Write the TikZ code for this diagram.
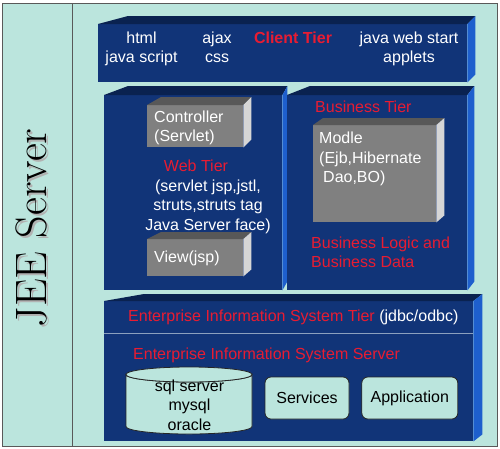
\documentclass[tikz,border=0pt]{standalone}
\usepackage{xcolor}
\usepackage{fontspec}
\usepackage{tikz}
\usetikzlibrary{positioning}
\newfontfamily\arialfont{Liberation Sans}

\definecolor{bgcyan}{RGB}{187,229,221}
\definecolor{tierfront}{RGB}{17,52,120}
\definecolor{tiertop}{RGB}{10,34,80}
\definecolor{tierside}{RGB}{30,95,205}
\definecolor{boxfront}{RGB}{128,128,128}
\definecolor{boxtop}{RGB}{88,88,88}
\definecolor{boxside}{RGB}{214,214,214}
\definecolor{tiername}{RGB}{232,28,50}
\definecolor{eisline}{RGB}{140,160,190}

% top and right faces of a block: node, top colour, side colour, left slant, depth x, depth y
\newcommand{\boxfaces}[6]{%
    \fill[#2] (#1.north west) -- ++(#4,-#6) -- ([shift={(#5pt,#6pt)}]#1.north east) -- (#1.north east) -- cycle;
    \fill[#3] (#1.north east) -- ++(#5,-#6) -- ([shift={(#5pt,#6pt)}]#1.south east) -- (#1.south east) -- cycle;
}

\begin{document}
\begin{tikzpicture}[
        x=1pt, y=-1pt,
        every node/.style={inner sep=0pt, font=\arialfont\fontsize{16}{19.5}\selectfont},
        tier/.style={fill=tierfront, anchor=north west},
        block/.style={fill=boxfront, anchor=north west},
        wtext/.style={text=white, align=center},
        rtext/.style={text=tiername},
        dbbox/.style={draw=black!85, line width=0.8pt, fill=bgcyan, rounded corners=6pt,
            minimum width=84pt, minimum height=42pt, text=black}
    ]
        \useasboundingbox (0,0) rectangle (500,448);
        \draw[black!65, fill=bgcyan] (2.5,3) rectangle (497,446);
        \draw[black!65] (72,3) -- (72,446);

        \node[rotate=90, anchor=base, text=black!30, font=\fontsize{44}{44}\selectfont] (jeeshadow) at (48,230) {JEE Server};
        \node[rotate=90, anchor=base, font=\fontsize{44}{44}\selectfont] (jee) at (46,228) {JEE Server};

        % client tier
        \node[tier, minimum width=369pt, minimum height=58pt] (client) at (98,24) {};
        \boxfaces{client}{tiertop}{tierside}{30}{8}{8}
        \node[wtext, anchor=north] (clientleft) at (141.5,31.5) {html\\java script};
        \node[wtext, anchor=north] (clientmid) at (217,31.5) {ajax\\css};
        \node[rtext, anchor=base, font=\arialfont\bfseries\fontsize{16}{19.5}\selectfont] (clientname) at (293,43) {Client Tier};
        \node[wtext, anchor=north] (clientright) at (409,31.5) {java web start\\applets};

        % web tier
        \node[tier, minimum width=178pt, minimum height=195pt] (web) at (104,95) {};
        \boxfaces{web}{tiertop}{tierside}{24}{5}{9}
        \node[block, minimum width=96pt, minimum height=42pt] (controller) at (147,105) {};
        \boxfaces{controller}{boxtop}{boxside}{14}{8}{8}
        \node[wtext, anchor=north west, align=left] (controllertext) at (154,110.5) {Controller\\(Servlet)};
        \node[rtext, anchor=base] (webname) at (196,171) {Web Tier};
        \node[wtext, anchor=north] (webtech) at (208,179.5) {(servlet jsp,jstl,\\struts,struts tag\\Java Server face)};
        \node[block, minimum width=96pt, minimum height=37pt] (view) at (147,239) {};
        \boxfaces{view}{boxtop}{boxside}{14}{8}{7}
        \node[wtext, anchor=base west] (viewtext) at (154,262) {View(jsp)};

        % business tier
        \node[tier, minimum width=180pt, minimum height=195pt] (business) at (287,95) {};
        \boxfaces{business}{tiertop}{tierside}{23}{7}{9}
        \node[rtext, anchor=base west] (businessname) at (315,112) {Business Tier};
        \node[block, minimum width=123pt, minimum height=97pt] (modle) at (313,125) {};
        \boxfaces{modle}{boxtop}{boxside}{10}{8}{7}
        \node[wtext, anchor=north west, align=left] (modletext) at (319,132) {Modle\\(Ejb,Hibernate\\\hspace*{4pt}Dao,BO)};
        \node[rtext, anchor=north west, align=left] (businesslogic) at (311,236.5) {Business Logic and\\Business Data};

        % eis tier
        \node[tier, minimum width=369pt, minimum height=140pt] (eis) at (104,301) {};
        \boxfaces{eis}{tiertop}{tierside}{40}{9}{7}
        \draw[eisline, line width=1pt] (eis.west |- 0,333) -- (eis.east |- 0,333);
        \node[rtext, anchor=base west] (eistier) at (128,321) {Enterprise Information System Tier \textcolor{white}{(jdbc/odbc)}};
        \node[rtext, anchor=base west] (eisserver) at (133,359) {Enterprise Information System Server};

        % database
        \draw[black!85, line width=0.8pt, fill=bgcyan] (126,374.5) -- (126,426.5)
            arc[start angle=180, end angle=0, x radius=63, y radius=7.5] -- (252,374.5)
            arc[start angle=0, end angle=180, x radius=63, y radius=7.5] -- cycle;
        \draw[black!85, line width=0.8pt, fill=bgcyan] (189,374.5) ellipse[x radius=63, y radius=7.5];
        \node[anchor=north, align=center] (db) at (189.5,379.5) {sql server\\mysql\\oracle};

        \node[dbbox] (services) at (307,398) {Services};
        \node[dbbox, minimum width=96pt, right=12pt of services] (application) {Application};
    \end{tikzpicture}
\end{document}
